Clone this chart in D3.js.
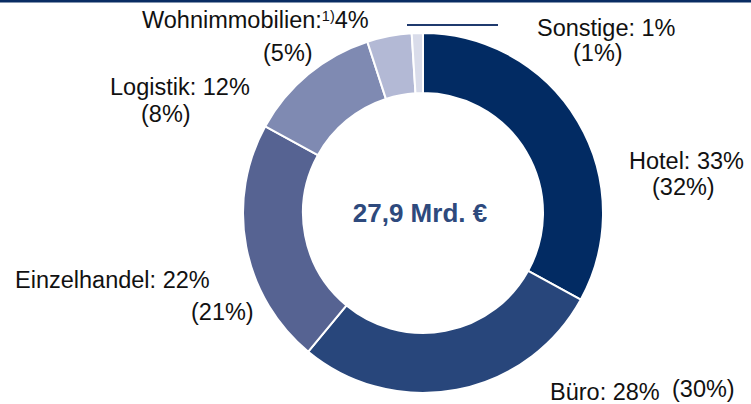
<!DOCTYPE html>
<html>
<head>
<meta charset="utf-8">
<script src="https://cdn.jsdelivr.net/npm/d3@7"></script>
<style>
  html, body { margin: 0; padding: 0; background: #fff; }
  svg { display: block; font-family: "Liberation Sans", Arial, sans-serif; }
</style>
</head>
<body>
<svg id="chart" width="751" height="404"></svg>
<script>
// ---- data ----
const categories = ["Hotel", "Büro", "Einzelhandel", "Logistik", "Wohnimmobilien", "Sonstige"];
const shares = [33, 28, 22, 12, 4, 1];          // current year (%)
const sharesPrev = [32, 30, 21, 8, 5, 1];       // previous year (%) in brackets
const totalLabel = "27,9 Mrd. €";

// ---- styles / layout ----
const colors = ["#022b63", "#28467b", "#566392", "#7f8ab2", "#b3b9d5", "#d9dcea"];
const W = 751, H = 404;
const cx = 423, cy = 213, outerR = 180, innerR = 120;
const labelSize = 23.5;

// label layout: [x, y] for main line and bracket line (text-anchor start, baseline y)
const labelLayout = [
  { main: [629, 169], prev: [652, 195] },   // Hotel
  { main: [550, 400], prev: [672, 397] },   // Büro
  { main: [15, 288], prev: [191, 320] },    // Einzelhandel
  { main: [110, 95], prev: [141, 122] },    // Logistik
  { main: [142, 28], prev: [263, 61] },     // Wohnimmobilien
  { main: [537, 36], prev: [573, 61] }      // Sonstige
];

const svg = d3.select("#chart");

// top band
svg.append("rect").attr("x", 0).attr("y", 0).attr("width", W).attr("height", 2.5).attr("fill", "#0a2c63");
// short rule near top
svg.append("line").attr("x1", 407).attr("x2", 498).attr("y1", 25).attr("y2", 25)
  .attr("stroke", "#1f3a6e").attr("stroke-width", 2.2);

const pie = d3.pie().sort(null).value(d => d.v).startAngle(0).endAngle(2 * Math.PI);
const arc = d3.arc().innerRadius(innerR).outerRadius(outerR);
const data = categories.map((c, i) => ({ c, v: shares[i], p: sharesPrev[i], i }));

const g = svg.append("g").attr("transform", `translate(${cx},${cy})`);
g.selectAll("path").data(pie(data)).join("path")
  .attr("d", arc)
  .attr("fill", d => colors[d.data.i])
  .attr("stroke", "#fff")
  .attr("stroke-width", 2);

// center label
g.append("text").attr("x", -3).attr("y", 8.5)
  .attr("text-anchor", "middle")
  .attr("font-size", 26).attr("font-weight", "bold")
  .attr("fill", "#2e4a7d")
  .text(totalLabel);

// labels
data.forEach((d, i) => {
  const L = labelLayout[i];
  const t = svg.append("text").attr("x", L.main[0]).attr("y", L.main[1])
    .attr("font-size", labelSize).attr("fill", "#111");
  if (d.c === "Wohnimmobilien") {
    t.append("tspan").text(d.c + ":");
    t.append("tspan").attr("font-size", 14.5).attr("dy", -7).text("1)");
    t.append("tspan").attr("dy", 7).text(d.v + "%");
  } else {
    t.text(`${d.c}: ${d.v}%`);
  }
  svg.append("text").attr("x", L.prev[0]).attr("y", L.prev[1])
    .attr("font-size", labelSize).attr("fill", "#111")
    .text(`(${d.p}%)`);
});
</script>
</body>
</html>
